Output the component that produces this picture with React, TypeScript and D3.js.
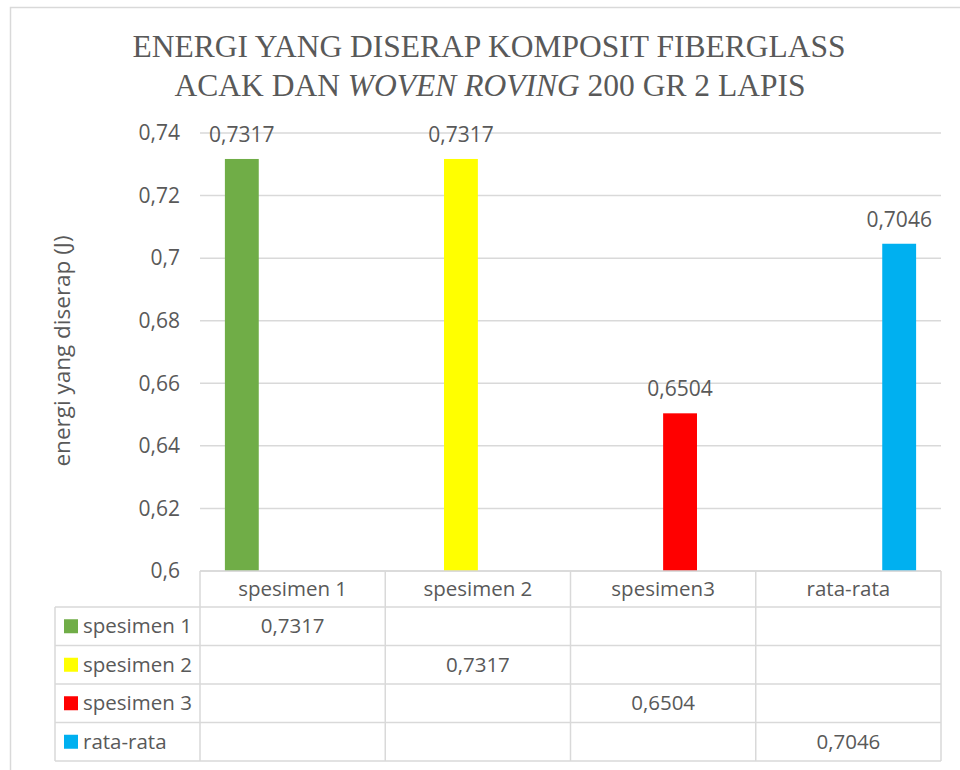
import React from 'react';
import * as d3 from 'd3';

// chart data
const categories = ['spesimen 1', 'spesimen 2', 'spesimen3', 'rata-rata'];
const seriesNames = ['spesimen 1', 'spesimen 2', 'spesimen 3', 'rata-rata'];
const spesimen1 = [0.7317, null, null, null];
const spesimen2 = [null, 0.7317, null, null];
const spesimen3 = [null, null, 0.6504, null];
const rataRata = [null, null, null, 0.7046];
const seriesColors = ['#70AD47', '#FFFF00', '#FF0000', '#00B0F0'];
const yTicks = [0.6, 0.62, 0.64, 0.66, 0.68, 0.7, 0.72, 0.74];

const seriesValues = [spesimen1, spesimen2, spesimen3, rataRata];

const W = 960;
const H = 770;
const plot = { left: 200, right: 941, top: 133, bottom: 571 };
const headerH = 36;
const rowH = 38.5;
const keyLeft = 55;

const grey = '#595959';
const lineGrey = '#d9d9d9';
const sans = '"Open Sans", "Noto Sans", sans-serif';
const serif = '"Liberation Serif", "DejaVu Serif", serif';

const fmt = (v: number) => String(+v.toFixed(4)).replace('.', ',');

const App = () => {
  const x = d3.scaleBand<string>().domain(categories).range([plot.left, plot.right]).padding(0);
  const inner = d3.scaleBand<string>()
    .domain(seriesNames)
    .range([0, x.bandwidth()])
    .paddingInner(0)
    .paddingOuter(0.735);
  const y = d3.scaleLinear().domain([0.6, 0.74]).range([plot.bottom, plot.top]);

  const tableTop = plot.bottom;
  const rowsTop = tableTop + headerH;
  const tableBottom = rowsTop + rowH * seriesNames.length;
  const colEdges = [plot.left, ...categories.map(c => (x(c) as number) + x.bandwidth())];

  return (
    <svg width={W} height={H} style={{ position: 'absolute', left: 0, top: 0, background: '#fff' }}>
      {/* chart border */}
      <rect x={10.5} y={7.5} width={W + 20} height={H + 20} fill="#fff" stroke={lineGrey} strokeWidth={1.5} />

      {/* title */}
      <text textAnchor="middle" fill={grey} fontFamily={serif} fontSize={31.5}>
        <tspan x={489} y={56.5}>ENERGI YANG DISERAP KOMPOSIT FIBERGLASS</tspan>
        <tspan x={490} y={95.5}>
          ACAK DAN <tspan fontStyle="italic">WOVEN ROVING</tspan> 200 GR 2 LAPIS
        </tspan>
      </text>

      {/* gridlines + y tick labels */}
      {yTicks.map(t => (
        <g key={t}>
          <line x1={plot.left} x2={plot.right} y1={y(t)} y2={y(t)} stroke={lineGrey} strokeWidth={1.5} />
          <text x={180} y={y(t)} dy="0.35em" textAnchor="end" fill={grey} fontFamily={sans} fontSize={21}>
            {fmt(t)}
          </text>
        </g>
      ))}

      {/* y axis title */}
      <text
        transform={`translate(70,${(plot.top + plot.bottom) / 2 - 1}) rotate(-90)`}
        textAnchor="middle"
        fill={grey}
        fontFamily={sans}
        fontSize={22.5}
      >
        energi yang diserap (J)
      </text>

      {/* bars + data labels */}
      {seriesValues.map((vals, si) =>
        vals.map((v, ci) => {
          if (v == null) return null;
          const bx = (x(categories[ci]) as number) + (inner(seriesNames[si]) as number);
          const bw = inner.bandwidth();
          return (
            <g key={`${si}-${ci}`}>
              <rect x={bx} y={y(v)} width={bw} height={y(0.6) - y(v)} fill={seriesColors[si]} />
              <text x={bx + bw / 2} y={y(v) - 17} textAnchor="middle" fill={grey} fontFamily={sans} fontSize={21}>
                {fmt(v)}
              </text>
            </g>
          );
        })
      )}

      {/* data table */}
      <g stroke={lineGrey} strokeWidth={1.5}>
        <line x1={plot.left} x2={plot.right} y1={tableTop} y2={tableTop} />
        {seriesNames.map((_, i) => (
          <line key={i} x1={keyLeft} x2={plot.right} y1={rowsTop + rowH * i} y2={rowsTop + rowH * i} />
        ))}
        <line x1={keyLeft} x2={plot.right} y1={tableBottom} y2={tableBottom} />
        <line x1={keyLeft} x2={keyLeft} y1={rowsTop} y2={tableBottom} />
        {colEdges.map((cx, i) => (
          <line key={i} x1={cx} x2={cx} y1={tableTop} y2={tableBottom} />
        ))}
      </g>

      {categories.map(c => (
        <text
          key={c}
          x={(x(c) as number) + x.bandwidth() / 2}
          y={tableTop + headerH / 2}
          dy="0.35em"
          textAnchor="middle"
          fill={grey}
          fontFamily={sans}
          fontSize={20.5}
        >
          {c}
        </text>
      ))}

      {seriesNames.map((s, si) => {
        const cy = rowsTop + rowH * si + rowH / 2;
        return (
          <g key={s}>
            <rect x={64} y={cy - 7} width={14} height={14} fill={seriesColors[si]} />
            <text x={83} y={cy} dy="0.35em" fill={grey} fontFamily={sans} fontSize={20.5}>
              {s}
            </text>
            {seriesValues[si].map((v, ci) =>
              v == null ? null : (
                <text
                  key={ci}
                  x={(x(categories[ci]) as number) + x.bandwidth() / 2}
                  y={cy}
                  dy="0.35em"
                  textAnchor="middle"
                  fill={grey}
                  fontFamily={sans}
                  fontSize={20.5}
                >
                  {fmt(v)}
                </text>
              )
            )}
          </g>
        );
      })}
    </svg>
  );
};

export default App;
